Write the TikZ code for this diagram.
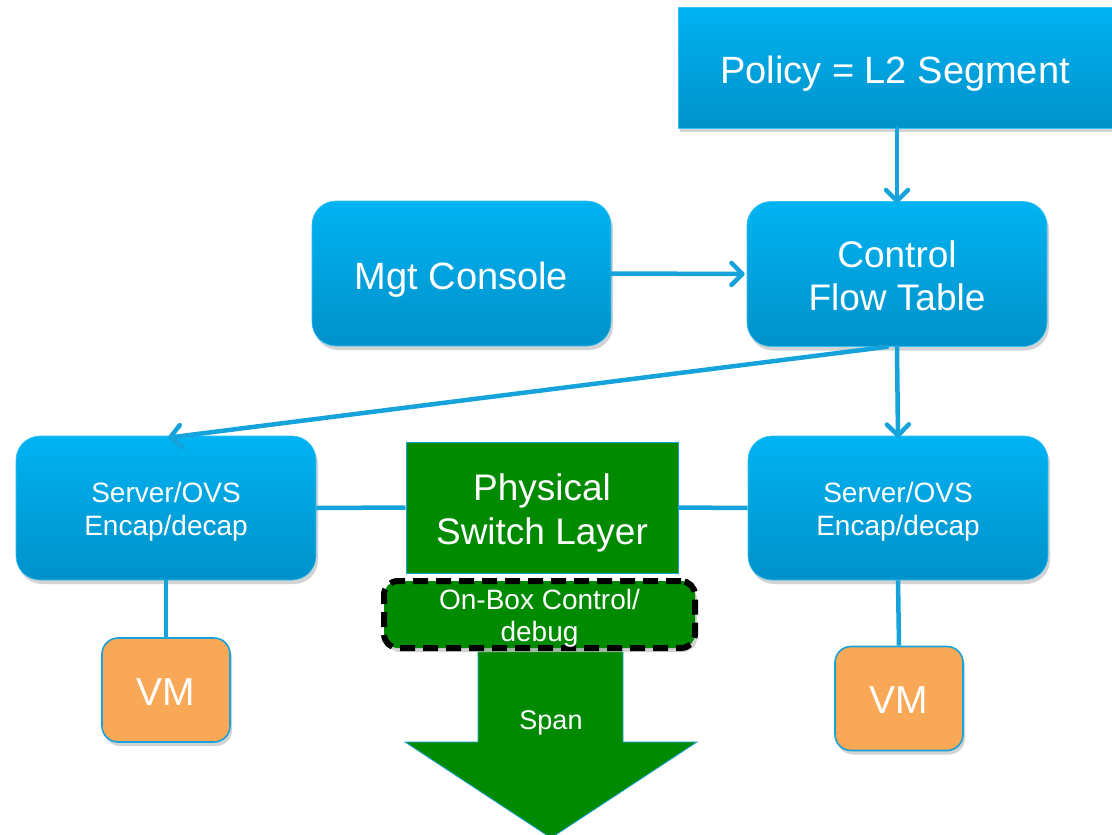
\documentclass[tikz,border=0pt]{standalone}
\usepackage{fontspec}
\setmainfont{Liberation Sans}
\usetikzlibrary{arrows.meta,shadows,calc}

\definecolor{boxtop}{HTML}{00B3F2}
\definecolor{boxbot}{HTML}{0091C9}
\definecolor{wire}{HTML}{16A3DB}
\definecolor{swgreen}{HTML}{008A00}
\definecolor{vmorange}{HTML}{F9A857}
\definecolor{shadowgray}{HTML}{C8C8C8}

\tikzset{
  softshadow/.style={drop shadow={shadow xshift=2pt, shadow yshift=-4pt, fill=shadowgray, opacity=0.8}},
  bluebox/.style={rounded corners=24pt, top color=boxtop, bottom color=boxbot,
    draw=boxtop!80!white, line width=0.6pt, inner sep=0pt, softshadow},
  caption/.style={text=white, align=center, inner sep=0pt},
  vmbox/.style={rounded corners=16pt, fill=vmorange, draw=wire, line width=1.6pt,
    inner sep=0pt, minimum width=128pt, minimum height=104pt, softshadow},
  wireline/.style={draw=wire, line width=4.5pt},
  wirearrow/.style={wireline, line cap=round,
    -{Straight Barb[length=11pt,width=22pt,line width=4.5pt,round]}},
}

\begin{document}
\begin{tikzpicture}[x=1pt,y=-1pt]
\useasboundingbox (0,0) rectangle (1112,835);

% policy bar along the top edge
\node[bluebox, rounded corners=0pt, minimum width=434pt, minimum height=121pt,
      label={[caption, font=\fontsize{38}{44}\selectfont, yshift=-6pt]center:Policy = L2 Segment}]
      (policy) at (895,67.5) {};

% management and control
\node[bluebox, minimum width=299pt, minimum height=145pt,
      label={[caption, font=\fontsize{38}{44}\selectfont, yshift=-6pt]center:Mgt Console}]
      (mgt) at (461.5,273.5) {};
\node[bluebox, minimum width=300pt, minimum height=145pt,
      label={[caption, font=\fontsize{37}{43}\selectfont, yshift=-2pt]center:Control\\Flow Table}]
      (ctrl) at (897,274) {};

% servers
\node[bluebox, minimum width=300pt, minimum height=144pt,
      label={[caption, font=\fontsize{28}{33}\selectfont, yshift=-4pt]center:Server/OVS\\Encap/decap}]
      (lsrv) at (166,508) {};
\node[bluebox, minimum width=300pt, minimum height=144pt,
      label={[caption, font=\fontsize{28}{33}\selectfont, yshift=-4pt]center:Server/OVS\\Encap/decap}]
      (rsrv) at (898,508) {};

% physical switch
\node[fill=swgreen, draw=wire, line width=1pt, inner sep=0pt,
      minimum width=272pt, minimum height=131pt,
      label={[caption, font=\fontsize{37}{44}\selectfont, yshift=-5pt]center:Physical\\Switch Layer}]
      (phys) at (542,507.5) {};

% span arrow
\fill[swgreen, draw=wire, line width=0.8pt]
  (478,648) -- (623,648) -- (623,742) -- (697,742) -- (551,838) -- (405,742) -- (478,742) -- cycle;
\node[caption, font=\fontsize{27}{31}\selectfont] (span) at (551,723) {Span};

% on-box control
\node[fill=swgreen, draw=black, line width=6pt, dash pattern=on 15pt off 8pt,
      rounded corners=14pt, inner sep=0pt,
      minimum width=311pt, minimum height=67pt, softshadow,
      label={[caption, font=\fontsize{28}{32}\selectfont, yshift=-4pt]center:On-Box Control/\\debug}]
      (onbox) at (539.5,614.5) {};

% virtual machines
\node[vmbox, label={[caption, font=\fontsize{39}{44}\selectfont, yshift=-2pt]center:VM}]
      (lvm) at (166,690) {};
\node[vmbox, label={[caption, font=\fontsize{39}{44}\selectfont, yshift=-2pt]center:VM}]
      (rvm) at (899,698.5) {};

% connectors
\draw[wirearrow] (ctrl.north |- policy.south) -- ([yshift=-2pt]ctrl.north);
\draw[wirearrow] (mgt.east) -- ([xshift=-2pt]ctrl.west);
\draw[wirearrow] (ctrl.south) -- ([yshift=-2pt]rsrv.north);
\draw[wirearrow] ([xshift=-10pt]ctrl.south) -- ([xshift=2pt,yshift=-2pt]lsrv.north);
\draw[wireline] (lsrv.east) -- (phys.west);
\draw[wireline] (phys.east) -- (rsrv.west);
\draw[wireline] (lsrv.south) -- (lvm.north);
\draw[wireline] (rsrv.south) -- (rvm.north);
\end{tikzpicture}
\end{document}
